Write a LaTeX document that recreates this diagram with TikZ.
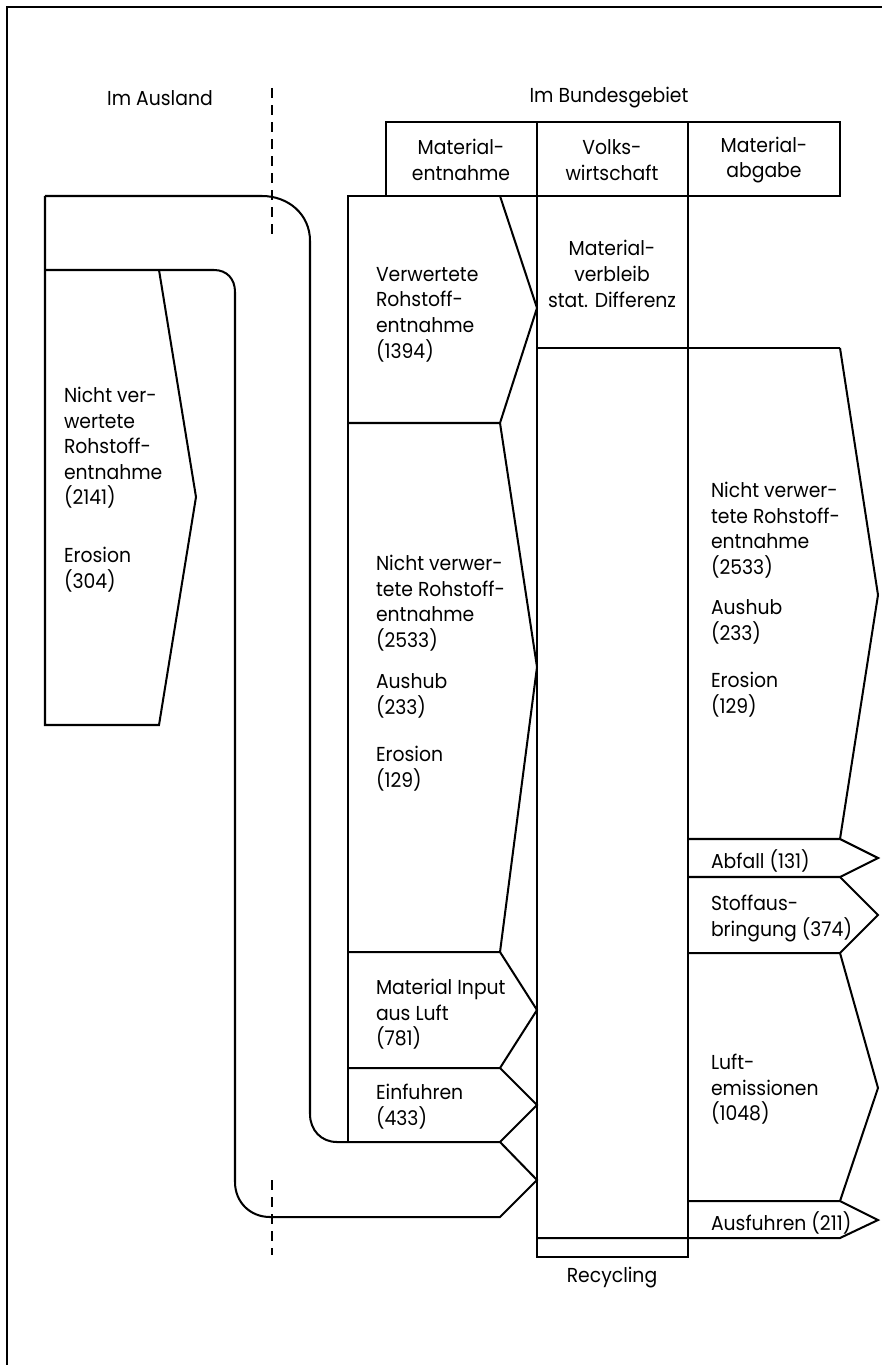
\documentclass[tikz,border=0pt]{standalone}
\usepackage{fontspec}
\setmainfont[FakeStretch=0.93]{Poppins}
\usetikzlibrary{positioning}

\begin{document}
\begin{tikzpicture}[x=0.02cm, y=-0.02cm, line width=1.15pt, line join=miter,
	lbl/.style={anchor=north west, align=left, inner sep=0pt, font={\fontsize{11.5}{14.6}\selectfont}},
	head/.style={anchor=center, align=center, inner sep=0pt, font={\fontsize{11.5}{14.6}\selectfont}},
	border/.style={dash pattern=on 5.7pt off 4pt}]
	\useasboundingbox (0,0) rectangle (882,1365);
	\draw (7,1365) -- (7,7) -- (882,7);

	% Ausland / Bundesgebiet
	\node[head] (ausland) at (160,98) {Im Ausland};
	\node[head] (bund) at (609,98) {Im Bundesgebiet};
	\draw[border] (272,88) -- (272,235);
	\draw[border] (272,1180) -- (272,1255);

	% Kopfzeile
	\draw (386,122) rectangle (840,196);
	\draw (537,122) -- (537,196) (688,122) -- (688,196);
	\node[head] (entnahme) at (461,160) {Material-\\entnahme};
	\node[head] (vw) at (612,160) {Volks-\\wirtschaft};
	\node[head] (abgabe) at (764,160) {Material-\\abgabe};

	% Volkswirtschaft
	\draw (348,1142) -- (348,196) -- (840,196);
	\draw (537,196) -- (537,1257) -- (688,1257) -- (688,196);
	\draw (537,348) -- (840,348);
	\node[head] (verbleib) at (612,274) {Material-\\verbleib\\stat. Differenz};
	\node[head] (recycling) at (612,1278) {Recycling};

	% Materialentnahme
	\draw (500,196) -- (537,308) -- (500,423);
	\draw (348,423) -- (500,423) -- (537,667) -- (500,952);
	\draw (348,952) -- (500,952) -- (537,1010) -- (500,1068);
	\draw (348,1068) -- (500,1068) -- (537,1105) -- (500,1142);
	\node[lbl] (verw) at (375,266) {Verwertete\\Rohstoff-\\entnahme\\(1394)};
	\node[lbl] (nvM) at (375,554) {Nicht verwer-\\tete Rohstoff-\\entnahme\\(2533)};
	\node[lbl] (aushubM) at (375,673) {Aushub\\(233)};
	\node[lbl] (erosionM) at (375,745) {Erosion\\(129)};
	\node[lbl] (luftIn) at (375,978) {Material Input\\aus Luft\\(781)};
	\node[lbl] (einfuhr) at (375,1083) {Einfuhren\\(433)};

	% Ausland
	\draw (45,196) -- (262,196) .. controls (288,196) and (310,214) .. (310,241) -- (310,1114)
		.. controls (310,1130) and (321,1142) .. (337,1142) -- (500,1142) -- (537,1180) -- (500,1217)
		-- (270,1217) .. controls (250,1217) and (235,1202) .. (235,1182) -- (235,292)
		.. controls (235,279) and (227,270) .. (214,270) -- (45,270);
	\draw (45,196) -- (45,725) -- (159,725) -- (196,497) -- (159,270);
	\node[lbl] (nvA) at (63,386) {Nicht ver-\\wertete\\Rohstoff-\\entnahme\\(2141)};
	\node[lbl] (erosionA) at (63,546) {Erosion\\(304)};

	% Materialabgabe
	\draw (840,348) -- (878,595) -- (840,839);
	\draw (688,839) -- (840,839) -- (878,858) -- (840,877);
	\draw (688,877) -- (840,877) -- (878,915) -- (840,953);
	\draw (688,953) -- (840,953) -- (878,1088) -- (840,1201);
	\draw (688,1201) -- (840,1201) -- (878,1220) -- (840,1238) -- (537,1238);
	\node[lbl] (nvR) at (710,481) {Nicht verwer-\\tete Rohstoff-\\entnahme\\(2533)};
	\node[lbl] (aushubR) at (710,599) {Aushub\\(233)};
	\node[lbl] (erosionR) at (710,671) {Erosion\\(129)};
	\node[lbl] (abfall) at (710,849) {Abfall (131)};
	\node[lbl] (stoff) at (710,894) {Stoffaus-\\bringung (374)};
	\node[lbl] (luftEm) at (710,1053) {Luft-\\emissionen\\(1048)};
	\node[lbl] (ausfuhr) at (710,1211) {Ausfuhren (211)};
\end{tikzpicture}
\end{document}
